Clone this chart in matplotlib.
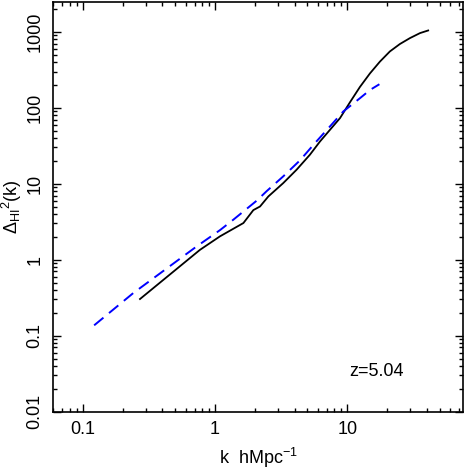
import numpy as np
import matplotlib
matplotlib.use('Agg')
import matplotlib.pyplot as plt
from matplotlib.ticker import LogLocator, FixedLocator, FixedFormatter, NullFormatter

plt.rcParams['font.family'] = ['Liberation Sans', 'DejaVu Sans']
plt.rcParams['mathtext.fontset'] = 'custom'
plt.rcParams['mathtext.rm'] = 'Liberation Sans'
plt.rcParams['mathtext.it'] = 'Liberation Sans:italic'

# simulation power spectrum (solid)
k_sim = [0.271, 0.543, 0.77, 1.09, 1.64, 1.95, 2.19, 2.53, 3.28, 4.14, 5.22, 6.22,
         8.81, 10.48, 12.47, 14.84, 17.66, 21.0, 25.0, 29.8, 35.5, 40.9]
d_sim = [0.304, 0.82, 1.35, 2.03, 3.04, 4.5, 5.02, 6.8, 10.2, 15.3, 24.1, 36,
         73, 118, 188, 283, 405, 551, 690, 826, 961, 1040]

# model (dashed)
k_fit = [0.122, 0.241, 0.728, 1.09, 1.375, 2.07, 2.46, 3.28, 4.39, 5.70, 7.40,
         9.33, 12.5, 14.9, 17.5]
d_fit = [0.137, 0.364, 1.50, 2.45, 3.36, 6.0, 8.0, 12.5, 20.3, 34.3, 56.8,
         89.4, 134, 172, 204]

yticks = [0.01, 0.1, 1, 10, 100, 1000]
ylabels = ['0.01', '0.1', '1', '10', '100', '1000']
xticks = [0.1, 1, 10]
xlabels = ['0.1', '1', '10']

fig = plt.figure(figsize=(4.65, 4.69), dpi=100)
ax = fig.add_axes([53/465, 1 - 411.7/469, 410/465, 409.5/469])

ax.plot(k_sim, d_sim, color='black', lw=1.3)
ax.plot(k_fit, d_fit, color='#0000ff', lw=1.4, dashes=(6.2, 3.7))

ax.set_xscale('log')
ax.set_yscale('log')
ax.set_xlim(0.0596, 75)
ax.set_ylim(0.01, 2450)

ax.xaxis.set_major_locator(FixedLocator(xticks))
ax.xaxis.set_major_formatter(FixedFormatter(xlabels))
ax.yaxis.set_major_locator(FixedLocator(yticks))
ax.yaxis.set_major_formatter(FixedFormatter(ylabels))
ax.xaxis.set_minor_locator(LogLocator(base=10, subs=np.arange(2, 10), numticks=20))
ax.yaxis.set_minor_locator(LogLocator(base=10, subs=np.arange(2, 10), numticks=20))
ax.xaxis.set_minor_formatter(NullFormatter())
ax.yaxis.set_minor_formatter(NullFormatter())

ax.tick_params(which='both', direction='in', top=True, right=True, width=1.0,
               labelsize=13, color='black')
ax.tick_params(which='major', length=5.8, pad=7)
ax.tick_params(which='minor', length=3)
for lab in ax.get_yticklabels():
    lab.set_rotation(90)
    lab.set_va('center')
for s in ax.spines.values():
    s.set_linewidth(1.2)

ax.set_xlabel(r'k  hMpc$^{-1}$', fontsize=13)
ax.xaxis.set_label_coords(0.5, -0.084)
ax.set_ylabel(r'$\Delta_{\rm HI}{}^{2}$(k)', fontsize=13)
ax.yaxis.set_label_coords(-0.071, 0.5)
ax.text(0.788, 0.097, 'z=5.04', transform=ax.transAxes, fontsize=13,
        ha='center', va='center')

fig.savefig('out.png', dpi=100)
